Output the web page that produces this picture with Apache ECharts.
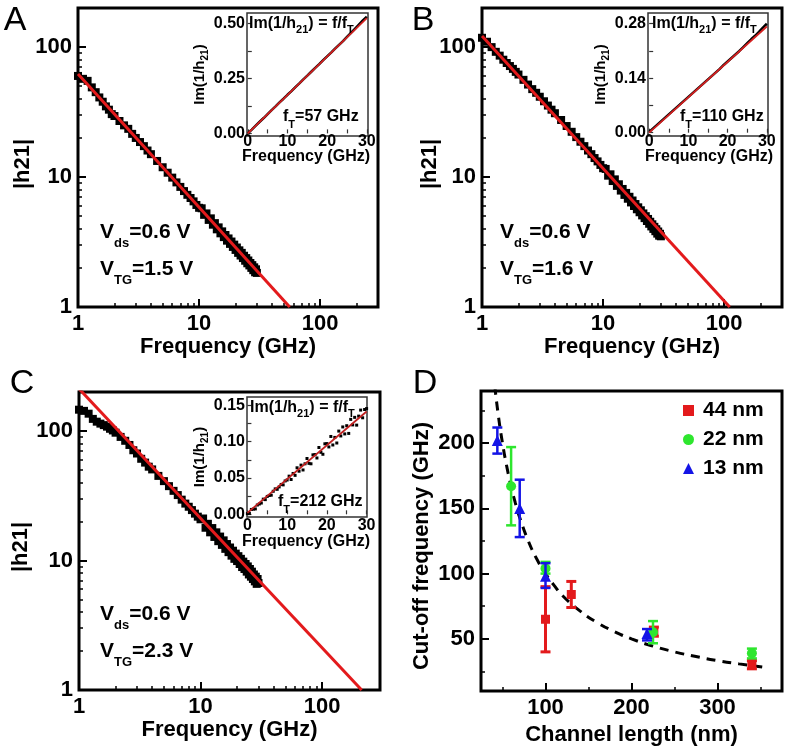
<!DOCTYPE html>
<html><head><meta charset="utf-8">
<script src="https://cdn.jsdelivr.net/npm/echarts@6/dist/echarts.min.js"></script>
<style>html,body{margin:0;padding:0;background:#fff}#c{width:789px;height:750px}</style>
</head><body><div id="c"></div>
<script>
// ---------- DATA ----------
const freq = [1,1.1,1.2,1.3,1.4,1.5,1.6,1.7,1.8,1.9,2,2.2,2.4,2.6,2.8,3,3.25,3.5,3.75,4,4.5,5,5.5,6,6.5,7,7.5,8,8.5,9,9.5,10,
  10.5,11,11.5,12,12.5,13,13.5,14,14.5,15,15.5,16,16.5,17,17.5,18,18.5,19,19.5,20,20.5,21,21.5,22,22.5,23,23.5,24,24.5,25,25.5,26,26.5,27,27.5,28,28.5,29,29.5,30];
const h21A = [60,57,55,49,45,41,38,35,33,30.5,29.5,27,25,23.5,21.5,20,18.6,17.3,16,15,13.3,11.9,10.8,9.9,9.1,8.4,7.8,7.3,6.9,6.5,6.1,5.8,
  5.75,5.12,5.25,4.68,4.81,4.3,4.42,3.96,4.1,3.69,3.82,3.45,3.58,3.24,3.37,3.06,3.19,2.9,3.02,2.75,2.87,2.61,2.73,2.49,2.61,2.38,2.48,2.27,2.38,2.17,2.28,2.09,2.18,2.0,2.1,1.92,2.02,1.85,1.95,1.83];
const h21B = [118,110,100,92,86,80,75.5,71.5,68,64.5,61.5,56,51.5,47.5,44.5,41.5,38.3,35.5,33,31,27.5,24.7,22.3,20.3,18.7,17.3,16.0,15.0,14.0,13.2,12.4,11.7,
  11.55,10.25,10.5,9.32,9.6,8.55,8.8,7.87,8.1,7.29,7.55,6.81,7.05,6.38,6.6,5.99,6.2,5.65,5.85,5.36,5.55,5.07,5.25,4.83,5.0,4.59,4.76,4.37,4.53,4.17,4.33,3.99,4.14,3.83,3.97,3.67,3.81,3.54,3.66,3.5];
const h21C = [146,143,136,124,118,114,111,108,104,101,97,90,84,78,71,67,61,57,53,50.5,45,41,37.5,34.5,32,29.5,27.5,26,24.5,23,21.8,20.8,
  21.1,17.9,19.2,16.5,17.8,15.2,16.5,14.1,15.3,13.2,14.3,12.3,13.4,11.6,12.6,10.9,11.9,10.3,11.3,9.9,10.8,9.4,10.3,8.9,9.8,8.6,9.4,8.2,9.0,7.8,8.6,7.5,8.2,7.2,7.8,6.9,7.5,6.6,7.2,6.7];
const fitA_f = [1, 56],  fitA_h = [62, 1];
const fitB_f = [1, 111], fitB_h = [122, 1];
const fitC_f = [1, 212], fitC_h = [212, 1];

const insetF = [0,1,2,3,4,5,6,7,8,9,10,11,12,13,14,15,16,17,18,19,20,21,22,23,24,25,26,27,28,29,30];
const imA = [0.000,0.017,0.035,0.053,0.070,0.088,0.106,0.123,0.141,0.158,0.176,0.193,0.211,0.228,0.246,0.263,0.281,0.299,0.316,0.334,0.351,0.368,0.386,0.404,0.421,0.440,0.458,0.477,0.496,0.515,0.532];
const imB = [0.002,0.011,0.020,0.029,0.038,0.047,0.056,0.065,0.074,0.083,0.092,0.101,0.110,0.119,0.128,0.137,0.146,0.155,0.164,0.174,0.183,0.192,0.201,0.210,0.220,0.230,0.240,0.249,0.259,0.270,0.280];
const insetCF = [0,0.5,1,1.5,2,2.5,3,3.5,4,4.5,5,5.5,6,6.5,7,7.5,8,8.5,9,9.5,10,10.5,11,11.5,12,12.5,13,13.5,14,14.5,15,15.5,16,16.5,17,17.5,18,18.5,19,19.5,20,20.5,21,21.5,22,22.5,23,23.5,24,24.5,25,25.5,26,26.5,27,27.5,28,28.5,29,29.5,30];
const imC = [0.001,0.0014,0.0067,0.0071,0.0074,0.0128,0.0142,0.0155,0.0209,0.0202,0.0246,0.0259,0.0263,0.0317,0.0350,0.0344,0.0377,0.0411,0.0405,0.0459,0.0472,0.0525,0.0479,0.0562,0.0536,0.0640,0.0593,0.0677,0.0610,0.0695,0.0768,0.0701,0.0695,0.0818,0.0822,0.0775,0.0919,0.0853,0.0826,0.0970,0.0973,0.0927,0.1071,0.0954,0.1058,0.0981,0.1145,0.1078,0.1202,0.1106,0.1219,0.1113,0.1306,0.1230,0.1334,0.1227,0.1351,0.1434,0.1328,0.1442,0.1455];
const fitInA_f = [0, 30], fitInA = [0, 0.526];
const fitInB_f = [0, 30], fitInB = [0, 0.273];
const fitInC_f = [0, 30], fitInC = [0.002, 0.1415];

// Panel D
const L44 = [100, 130, 226, 340], f44 = [65, 84, 56, 30.8], lo44 = [40, 74, 52, 27], hi44 = [90, 94, 59, 33.3];
const L22 = [60, 100, 225, 340], f22 = [167, 104, 55, 39], lo22 = [137, 100, 46.6, 35], hi22 = [197, 109, 63.6, 42.5];
const L13 = [44, 70, 100, 218], f13 = [202, 150, 98, 54], lo13 = [192, 128, 89, 48.8], hi13 = [212, 172, 108, 57.5];
const fitL = [41, 45, 50, 55, 60, 65, 70, 80, 90, 100, 110, 120, 140, 160, 180, 200, 225, 250, 275, 300, 325, 352];
const fitF = [244, 222, 200, 182, 167, 154, 143, 125, 111, 100, 91, 83, 71.4, 62.5, 55.6, 50, 44.4, 40, 36.4, 33.3, 30.8, 28.4];

const logMajor = [1, 10, 100];
const logMinorY = [2,3,4,5,6,7,8,9,20,30,40,50,60,70,80,90];
const logMinorX = [2,3,4,5,6,7,8,9,20,30,40,50,60,70,80,90,200];

// ---------- STYLE ----------
const FF = "'Liberation Sans', Arial, sans-serif";
const RED = '#e31a1c';
const tx = (size, extra) => Object.assign({fontSize: size, fontWeight: 'bold', fontFamily: FF, color: '#000'}, extra || {});
const zip = (a, b) => a.map((v, i) => [v, b[i]]);
const logFmt = v => String(Math.round(v));

const grids = [
  {left: 78, top: 8, width: 300, height: 299},      // A
  {left: 482, top: 8, width: 300, height: 299},     // B
  {left: 79, top: 392, width: 301, height: 298},    // C
  {left: 481, top: 391, width: 301, height: 300},   // D
];
const gridOpts = [];
grids.forEach(g => gridOpts.push(Object.assign({show: true, borderColor: '#000', borderWidth: 3, backgroundColor: 'transparent'}, g)));
grids.forEach(g => gridOpts.push(Object.assign({show: false}, g)));
gridOpts.push({show: true, left: 247, top: 13, width: 121, height: 123, borderColor: '#333', borderWidth: 1.5, backgroundColor: '#fff'});
gridOpts.push({show: true, left: 648, top: 13, width: 120, height: 123, borderColor: '#333', borderWidth: 1.5, backgroundColor: '#fff'});
gridOpts.push({show: true, left: 247, top: 397, width: 120, height: 120, borderColor: '#333', borderWidth: 1.5, backgroundColor: '#fff'});

function majorAxis(gi, type, min, max, labels, ticks, fmt, name, nameGap) {
  const a = {
    type, gridIndex: gi, min, max,
    axisLine: {show: false}, splitLine: {show: false},
    axisTick: {show: true, inside: true, length: 8, customValues: ticks, lineStyle: {color: '#000', width: 2}},
    axisLabel: {show: true, customValues: labels, formatter: fmt, margin: 6, hideOverlap: false, ...tx(22)},
  };
  if (name) { a.name = name; a.nameLocation = 'middle'; a.nameGap = nameGap; a.nameTextStyle = tx(22); }
  if (type === 'log') a.logBase = 10;
  return a;
}
function minorAxis(gi, type, min, max, ticks) {
  const a = {type, gridIndex: gi, min, max, axisLine: {show: false}, splitLine: {show: false}, axisLabel: {show: false},
    axisTick: {show: true, inside: true, length: 4, customValues: ticks, lineStyle: {color: '#000', width: 1.5}}};
  if (type === 'log') a.logBase = 10;
  return a;
}
function insetAxis(gi, min, max, labels, ticks, fmt, margin, name, nameGap) {
  const a = {
    type: 'value', gridIndex: gi, min, max,
    axisLine: {show: false}, splitLine: {show: false},
    axisTick: {show: true, inside: true, length: 4, customValues: ticks, lineStyle: {color: '#333', width: 1.2}},
    axisLabel: {show: true, customValues: labels, formatter: fmt, margin, hideOverlap: false, ...tx(16)},
  };
  if (name) {
    a.name = name; a.nameLocation = 'middle'; a.nameGap = nameGap; a.nameRotate = 90;
    a.nameTextStyle = Object.assign(tx(15), {rich: {
      m: {fontSize: 15, fontWeight: 'bold', fontFamily: FF, color: '#000', verticalAlign: 'top'},
      s: {fontSize: 10, fontWeight: 'bold', fontFamily: FF, color: '#000', padding: [8, 0, 0, 0], verticalAlign: 'bottom'}
    }});
  }
  return a;
}

const xAxes = [
  majorAxis(0, 'log', 1, 300, logMajor, logMajor, logFmt, 'Frequency (GHz)', 28),
  majorAxis(1, 'log', 1, 300, logMajor, logMajor, logFmt, 'Frequency (GHz)', 28),
  majorAxis(2, 'log', 1, 300, logMajor, logMajor, logFmt, 'Frequency (GHz)', 27),
  majorAxis(3, 'value', 25, 375, [100, 200, 300], [100, 200, 300], v => String(v), 'Channel length (nm)', 33),
  minorAxis(4, 'log', 1, 300, logMinorX),
  minorAxis(5, 'log', 1, 300, logMinorX),
  minorAxis(6, 'log', 1, 300, logMinorX),
  minorAxis(7, 'value', 25, 375, [50, 150, 250, 350]),
  insetAxis(8, -0.2, 30.3, [0, 10, 20, 30], [0, 5, 10, 15, 20, 25, 30], v => String(v), -2),
  insetAxis(9, -0.3, 30.3, [0, 10, 20, 30], [0, 5, 10, 15, 20, 25, 30], v => String(v), -2),
  insetAxis(10, -0.1, 30.1, [0, 10, 20, 30], [0, 5, 10, 15, 20, 25, 30], v => String(v), 1),
];
const imName = '{m|Im(1/h}{s|21}{m|)}';
const yAxes = [
  majorAxis(0, 'log', 1, 200, logMajor, logMajor, logFmt),
  majorAxis(1, 'log', 1, 200, logMajor, logMajor, logFmt),
  majorAxis(2, 'log', 1, 200, logMajor, logMajor, logFmt),
  majorAxis(3, 'value', 10, 240, [50, 100, 150, 200], [50, 100, 150, 200], v => String(v)),
  minorAxis(4, 'log', 1, 200, logMinorY),
  minorAxis(5, 'log', 1, 200, logMinorY),
  minorAxis(6, 'log', 1, 200, logMinorY),
  minorAxis(7, 'value', 10, 240, [25, 75, 125, 175, 225]),
  insetAxis(8, -0.012, 0.549, [0, 0.25, 0.5], [0, 0.125, 0.25, 0.375, 0.5], v => v.toFixed(2), 2, imName, 34),
  insetAxis(9, -0.0085, 0.3076, [0, 0.14, 0.28], [0, 0.07, 0.14, 0.21, 0.28], v => v.toFixed(2), 2, imName, 34),
  insetAxis(10, -0.0037, 0.1614, [0, 0.05, 0.10, 0.15], [0, 0.025, 0.05, 0.075, 0.10, 0.125, 0.15], v => v.toFixed(2), 2, imName, 34),
];

function mainScatter(gi, h) {
  return {type: 'scatter', xAxisIndex: gi, yAxisIndex: gi, data: zip(freq, h), symbol: 'rect', symbolSize: 8,
    itemStyle: {color: '#000', opacity: 1}, z: 2, silent: true};
}
function fitLine(gi, xs, ys, w, col, z) {
  return {type: 'line', xAxisIndex: gi, yAxisIndex: gi, data: zip(xs, ys), symbol: 'none',
    lineStyle: {color: col || RED, width: w || 3}, z: z || 3, silent: true, clip: true};
}
function errBars(name, xs, lo, hi, color, width, z) {
  return {type: 'custom', name, xAxisIndex: 3, yAxisIndex: 3, z, silent: true,
    data: xs.map((x, i) => [x, lo[i], hi[i]]),
    encode: {x: 0, y: [1, 2]},
    renderItem: (params, api) => {
      const x = api.value(0), l = api.value(1), h = api.value(2);
      const p1 = api.coord([x, h]), p2 = api.coord([x, l]);
      const w = 5;
      const st = {stroke: color, lineWidth: width};
      return {type: 'group', children: [
        {type: 'line', shape: {x1: p1[0], y1: p1[1], x2: p2[0], y2: p2[1]}, style: st},
        {type: 'line', shape: {x1: p1[0] - w, y1: p1[1], x2: p1[0] + w, y2: p1[1]}, style: st},
        {type: 'line', shape: {x1: p2[0] - w, y1: p2[1], x2: p2[0] + w, y2: p2[1]}, style: st}
      ]};
    }};
}
function dScatter(name, xs, ys, symbol, size, color, z) {
  return {type: 'scatter', name, xAxisIndex: 3, yAxisIndex: 3, data: zip(xs, ys), symbol, symbolSize: size,
    itemStyle: {color, opacity: 1}, z, silent: true};
}

const series = [
  mainScatter(0, h21A), fitLine(0, fitA_f, fitA_h),
  mainScatter(1, h21B), fitLine(1, fitB_f, fitB_h),
  mainScatter(2, h21C), fitLine(2, fitC_f, fitC_h),
  {type: 'line', xAxisIndex: 3, yAxisIndex: 3, data: zip(fitL, fitF), symbol: 'none', smooth: true,
    lineStyle: {color: '#000', width: 3, type: [9, 7]}, z: 2, silent: true},
  errBars('e44', L44, lo44, hi44, RED, 3, 3), dScatter('44 nm', L44, f44, 'rect', 9, RED, 4),
  errBars('e22', L22, lo22, hi22, '#2ee62e', 2.5, 5), dScatter('22 nm', L22, f22, 'circle', 10, '#2ee62e', 6),
  errBars('e13', L13, lo13, hi13, '#1414e6', 2.5, 7), dScatter('13 nm', L13, f13, 'triangle', 11, '#1414e6', 8),
  {type: 'line', xAxisIndex: 8, yAxisIndex: 8, data: zip(insetF, imA), symbol: 'none', lineStyle: {color: '#000', width: 2.5}, z: 5, silent: true},
  fitLine(8, fitInA_f, fitInA, 1.8, '#d42020', 6),
  {type: 'line', xAxisIndex: 9, yAxisIndex: 9, data: zip(insetF, imB), symbol: 'none', lineStyle: {color: '#000', width: 2.5}, z: 5, silent: true},
  fitLine(9, fitInB_f, fitInB, 1.8, '#d42020', 6),
  {type: 'scatter', xAxisIndex: 10, yAxisIndex: 10, data: zip(insetCF, imC), symbol: 'rect', symbolSize: 3, itemStyle: {color: '#000', opacity: 1}, z: 5, silent: true},
  fitLine(10, fitInC_f, fitInC, 1.8, '#c02020', 6),
];

function richText(x, y, text, mSize, sSize, pad) {
  return {type: 'text', x, y, z: 100, silent: true, style: {
    text, align: 'left', verticalAlign: 'top', fill: '#000',
    rich: {
      m: {fontSize: mSize, fontWeight: 'bold', fontFamily: FF, fill: '#000', verticalAlign: 'top'},
      s: {fontSize: sSize, fontWeight: 'bold', fontFamily: FF, fill: '#000', padding: [pad, 0, 0, 0], verticalAlign: 'bottom'}
    }}};
}
function letter(x, y, t) {
  return {type: 'text', x, y, z: 100, silent: true, style: {text: t, fontSize: 34, fontFamily: FF, fill: '#000', align: 'center', verticalAlign: 'middle'}};
}
function cText(x, y, t, size, rot) {
  return {type: 'text', x, y, rotation: rot ? Math.PI / 2 : 0, z: 100, silent: true,
    style: {text: t, fontSize: size, fontWeight: 'bold', fontFamily: FF, fill: '#000', align: 'center', verticalAlign: 'middle'}};
}
const graphics = [
  letter(15, 21, 'A'), letter(423, 21, 'B'), letter(22, 384, 'C'), letter(425, 384, 'D'),
  cText(23, 164, '|h21|', 22, true), cText(430, 164, '|h21|', 22, true), cText(21, 547, '|h21|', 22, true),
  cText(422, 546, 'Cut-off frequency (GHz)', 22, true),
  cText(306, 157, 'Frequency (GHz)', 16), cText(709, 157, 'Frequency (GHz)', 16), cText(306, 542, 'Frequency (GHz)', 16),
  richText(100, 222, '{m|V}{s|ds}{m|=0.6 V}', 21, 13, 15),
  richText(100, 259, '{m|V}{s|TG}{m|=1.5 V}', 21, 13, 15),
  richText(500, 222, '{m|V}{s|ds}{m|=0.6 V}', 21, 13, 15),
  richText(500, 259, '{m|V}{s|TG}{m|=1.6 V}', 21, 13, 15),
  richText(100, 604, '{m|V}{s|ds}{m|=0.6 V}', 21, 13, 15),
  richText(100, 641, '{m|V}{s|TG}{m|=2.3 V}', 21, 13, 15),
  richText(249, 16, '{m|Im(1/h}{s|21}{m|) = f/f}{s|T}', 16, 11, 8),
  richText(652, 16, '{m|Im(1/h}{s|21}{m|) = f/f}{s|T}', 16, 11, 8),
  richText(250, 400, '{m|Im(1/h}{s|21}{m|) = f/f}{s|T}', 16, 11, 8),
  richText(283, 109, '{m|f}{s|T}{m|=57 GHz}', 16, 11, 10),
  richText(680, 109, '{m|f}{s|T}{m|=110 GHz}', 16, 11, 10),
  richText(278, 494, '{m|f}{s|T}{m|=212 GHz}', 16, 11, 10),
];

const chart = echarts.init(document.getElementById('c'), null, {renderer: 'canvas'});
chart.setOption({
  animation: false,
  backgroundColor: '#fff',
  grid: gridOpts,
  xAxis: xAxes,
  yAxis: yAxes,
  legend: {data: [{name: '44 nm', icon: 'rect'}, {name: '22 nm', icon: 'circle'}, {name: '13 nm', icon: 'triangle'}],
    orient: 'vertical', left: 678, top: 395, itemWidth: 11, itemHeight: 11, itemGap: 8, selectedMode: false,
    textStyle: tx(21, {padding: [0, 0, 0, 4]})},
  series,
  graphic: graphics
});
</script>
</body></html>
